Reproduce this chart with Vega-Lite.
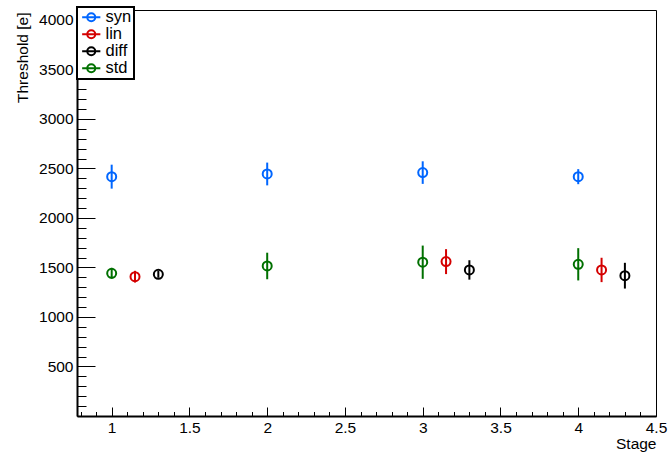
{
  "$schema": "https://vega.github.io/schema/vega-lite/v6.json",
  "width": 579,
  "height": 406,
  "autosize": {"type": "none"},
  "padding": {"left": 77, "top": 10, "right": 14, "bottom": 39},
  "background": "white",
  "config": {
    "font": "Liberation Sans",
    "view": {"stroke": "black", "strokeWidth": 1},
    "axis": {
      "grid": false,
      "domainColor": "black",
      "tickColor": "black",
      "labelColor": "black",
      "titleColor": "black",
      "labelFont": "Liberation Sans",
      "titleFont": "Liberation Sans",
      "labelFontSize": 15.5,
      "titleFontSize": 15.5,
      "titleFontWeight": "normal"
    },
    "legend": {
      "orient": "none",
      "legendX": 0,
      "legendY": -3,
      "padding": 2,
      "strokeColor": "black",
      "strokeWidth": 2,
      "fillColor": "white",
      "symbolType": "M-1.3,0L1.3,0M0.57,0A0.57,0.57,0,1,1,-0.57,0A0.57,0.57,0,1,1,0.57,0",
      "symbolSize": 196,
      "symbolStrokeWidth": 2,
      "symbolOffset": 4,
      "labelOffset": 6,
      "labelFont": "Liberation Sans",
      "labelFontSize": 16.5,
      "labelColor": "black",
      "rowPadding": 0
    }
  },
  "data": {
    "values": [
      {"stage": 1.0, "series": "syn", "value": 2417, "lo": 2296, "hi": 2538},
      {"stage": 2.0, "series": "syn", "value": 2444, "lo": 2329, "hi": 2559},
      {"stage": 3.0, "series": "syn", "value": 2458, "lo": 2344, "hi": 2572},
      {"stage": 4.0, "series": "syn", "value": 2417, "lo": 2341, "hi": 2493},
      {"stage": 1.15, "series": "lin", "value": 1407, "lo": 1348, "hi": 1466},
      {"stage": 3.15, "series": "lin", "value": 1559, "lo": 1433, "hi": 1685},
      {"stage": 4.15, "series": "lin", "value": 1475, "lo": 1352, "hi": 1598},
      {"stage": 1.3, "series": "diff", "value": 1431, "lo": 1396, "hi": 1466},
      {"stage": 3.3, "series": "diff", "value": 1475, "lo": 1377, "hi": 1573},
      {"stage": 4.3, "series": "diff", "value": 1417, "lo": 1287, "hi": 1547},
      {"stage": 1.0, "series": "std", "value": 1441, "lo": 1386, "hi": 1496},
      {"stage": 2.0, "series": "std", "value": 1515, "lo": 1381, "hi": 1649},
      {"stage": 3.0, "series": "std", "value": 1553, "lo": 1385, "hi": 1721},
      {"stage": 4.0, "series": "std", "value": 1532, "lo": 1369, "hi": 1695}
    ]
  },
  "layer": [
    {
      "mark": {"type": "rule", "strokeWidth": 2},
      "encoding": {
        "x": {
          "field": "stage",
          "type": "quantitative",
          "scale": {"domain": [0.777, 4.5], "nice": false, "zero": false},
          "axis": {
            "orient": "bottom",
            "values": [1, 1.5, 2, 2.5, 3, 3.5, 4, 4.5],
            "format": "~g",
            "tickSize": -9,
            "tickWidth": 1,
            "labelPadding": 13,
            "labelFlush": false,
            "labelOverlap": false,
            "domainWidth": 2,
            "title": "Stage",
            "titleX": 579,
            "titleY": 32,
            "titleAlign": "right",
            "titleBaseline": "alphabetic"
          }
        },
        "y": {
          "field": "lo",
          "type": "quantitative",
          "scale": {"domain": [0, 4100], "nice": false, "zero": false},
          "axis": {
            "orient": "left",
            "values": [500, 1000, 1500, 2000, 2500, 3000, 3500, 4000],
            "format": "d",
            "tickSize": -18,
            "tickWidth": 1,
            "labelPadding": 22,
            "labelFlush": false,
            "labelOverlap": false,
            "domainWidth": 2,
            "title": "Threshold [e]",
            "titleAngle": -90,
            "titleX": -50,
            "titleY": 2,
            "titleAlign": "right",
            "titleBaseline": "alphabetic"
          }
        },
        "y2": {"field": "hi"},
        "color": {
          "field": "series",
          "type": "nominal",
          "scale": {"domain": ["syn", "lin", "diff", "std"], "range": ["#0066ff", "#d40000", "#000000", "#007000"]},
          "legend": {"title": null}
        }
      }
    },
    {
      "mark": {"type": "point", "shape": "circle", "filled": false, "strokeWidth": 2, "size": 81, "opacity": 1},
      "encoding": {
        "x": {
          "field": "stage",
          "type": "quantitative",
          "axis": {
            "orient": "bottom",
            "values": [0.8, 0.9, 1.1, 1.2, 1.3, 1.4, 1.6, 1.7, 1.8, 1.9, 2.1, 2.2, 2.3, 2.4, 2.6, 2.7, 2.8, 2.9, 3.1, 3.2, 3.3, 3.4, 3.6, 3.7, 3.8, 3.9, 4.1, 4.2, 4.3, 4.4],
            "tickSize": -4.5,
            "tickWidth": 1,
            "labels": false,
            "domain": false,
            "title": null
          }
        },
        "y": {
          "field": "value",
          "type": "quantitative",
          "axis": {
            "orient": "left",
            "values": [100, 200, 300, 400, 600, 700, 800, 900, 1100, 1200, 1300, 1400, 1600, 1700, 1800, 1900, 2100, 2200, 2300, 2400, 2600, 2700, 2800, 2900, 3100, 3200, 3300, 3400, 3600, 3700, 3800, 3900, 4100],
            "tickSize": -9,
            "tickWidth": 1,
            "labels": false,
            "domain": false,
            "title": null
          }
        },
        "color": {
          "field": "series",
          "type": "nominal",
          "legend": {"title": null}
        }
      }
    }
  ],
  "resolve": {"axis": {"x": "independent", "y": "independent"}}
}
